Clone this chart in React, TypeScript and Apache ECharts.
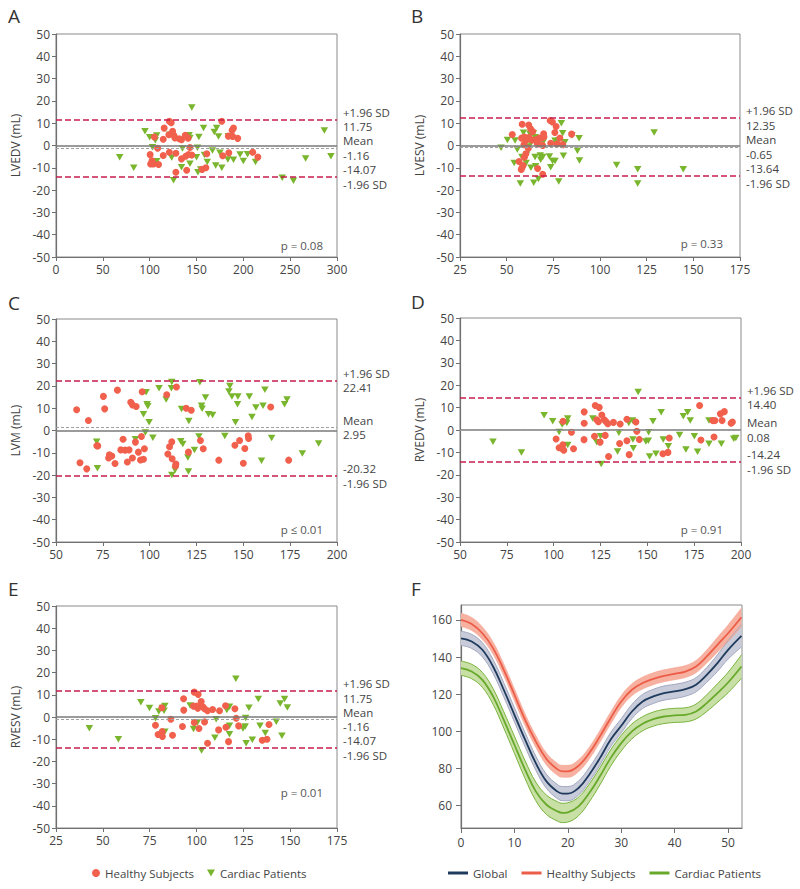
import React, { useEffect, useRef } from 'react';
import * as echarts from 'echarts';

const FONT = '"Open Sans", "Noto Sans", sans-serif';
const TEXT = '#444444';
const AXIS = '#707070';
const HEALTHY = '#f0604d';
const CARDIAC = '#79b52d';
const LIMIT = '#c81d4e';
const DOWN_TRIANGLE = 'path://M0,0L10,0L5,9Z';

// ---------- Panel A: LVEDV ----------
const lvedvHealthy = [[121,10.9],[123,10.2],[177,10.9],[115.5,7.8],[124.5,6.4],[189.5,7.8],[188,6.8],[105,3.8],[120.5,4.8],[126,4.5],[127,3.4],[131.5,3],[134,2.6],[138,4.6],[141,3.3],[114.5,2.8],[184,4.2],[188.5,4.1],[194,3.2],[108.5,-1.2],[143,-0.9],[100.5,-4.1],[114.5,-4.5],[121,-3],[128,-3.5],[134,-6],[138.5,-4.8],[141.5,-4],[145,-4.3],[161,-3.7],[178,-4.6],[184.5,-3.3],[210,-3],[215.5,-5.2],[102.5,-6.8],[104,-8.3],[109.5,-8.5],[101,-8.3],[128,-12],[139.5,-11.1],[156,-10.7],[160,-10]];
const lvedvCardiac = [[145,17],[95,6.4],[100,3.7],[106,3.7],[107.5,4.5],[106,2.3],[103,-0.8],[121.5,4.8],[142,4.6],[143,3.4],[152.5,3.8],[157.5,7.8],[171.5,7.8],[169,6],[173.5,4],[184,4.2],[286.5,6.7],[135,-1.4],[151,-1],[158.5,-4.3],[167,-2.2],[175,-3.3],[123.5,-5.4],[68,-5.3],[83,-10],[107.5,-7.1],[134,-9.8],[143,-8.2],[150,-5.3],[151.5,-12],[154.5,-10.8],[161.5,-7.4],[170.5,-9],[177,-10],[183.5,-6.3],[189.5,-6.4],[196.5,-4],[200,-7],[204.5,-3.9],[213,-7.4],[266.5,-5.8],[293.5,-4.8],[241.5,-14.5],[253.5,-15.8],[125.5,-15.6]];

// ---------- Panel B: LVESV ----------
const lvesvHealthy = [[53,4.9],[58.3,9.5],[61.8,9.2],[62.8,7.5],[64,6.3],[58,3.3],[59.5,3.8],[60.5,2.5],[62,3.7],[63.5,2.5],[65.5,2.6],[66.3,1],[67.5,3.3],[69,3.4],[69.8,5.3],[70,3.9],[67,0.7],[69.3,0],[73.3,11.2],[74.5,10.5],[76.5,8.5],[75.8,5.8],[73.6,1],[77,0.7],[78.5,3.4],[80,0.4],[84.8,5.1],[60.3,-3.7],[59.5,-5.3],[56.6,-7.2],[58.8,-9],[58.2,-10],[57.8,-10.8],[61.6,-1.2],[66.6,-10.3],[69.3,-12.9],[59.3,0.4]];
const lvesvCardiac = [[47,-1],[50.4,2.5],[54.5,2.2],[55.7,-1.8],[54,-7.8],[57.3,-17],[58.2,-5.2],[59,5.7],[60.7,-4],[60.4,-7.9],[61.3,-0.4],[62.5,5.2],[63,1],[63,-10],[64.3,5.5],[65.2,3.7],[65.2,-5.2],[64.5,-16.7],[65.5,-9.3],[67,-15],[68.2,-6.4],[68,-4.5],[69.3,-5.2],[69.6,1.6],[72.9,-4.9],[73.6,-9.7],[74.6,-7],[75.9,-7],[75.9,2.1],[77.7,2.2],[77.9,-16.1],[79.3,10],[80,5.5],[80.4,-4.6],[81.2,1.5],[85,4.5],[87.9,-2.4],[89,-6.7],[88.8,3.3],[108.9,-8.7],[120.2,-10.6],[120.2,-17],[129,5.8],[144.6,-10.7]];

// ---------- Panel C: LVM ----------
const lvmHealthy = [[61,9.3],[67.3,4.5],[75.3,15.3],[76,9.7],[82.8,18.1],[89.9,12.7],[90.8,11.5],[92.8,10.8],[96,17.4],[109.1,16],[114.3,19.5],[119.5,10],[122.2,9.1],[164.6,10.5],[62.8,-14.5],[66.4,-17.2],[72.3,-6.9],[71.8,-6.8],[78.5,-10.9],[78.1,-12.3],[79.8,-11.4],[81.5,-14.8],[84.6,-8.7],[85.8,-3.9],[86.9,-8.8],[89,-8.7],[88.1,-14.1],[90.8,-12.3],[92.4,-5.2],[94,-9.7],[95.1,-13.2],[95.6,-2.7],[96.7,-12.9],[97.2,-8.2],[111.8,-5.1],[110.6,-7.3],[109.7,-10.5],[112,-12.7],[113.8,-15.9],[114,-15],[120.7,-9.7],[127.1,-4.5],[128.6,-8.2],[136.9,-13.3],[145.5,-6.6],[148,-4.5],[150.8,-8.1],[150,-14.7],[152.6,-2.4],[152.8,-3.6],[174.2,-13.3]];
const lvmCardiac = [[111.8,21.7],[111.6,19],[126.8,21.6],[98.1,17.2],[105,19],[108.8,13.9],[98.6,11.8],[99,10.9],[96.7,7.3],[99.7,3.7],[117,9.6],[120.9,4.3],[129.8,14.8],[127.7,11.1],[128,9.7],[131.4,7.3],[133.6,7],[142.8,19.9],[142.3,17.5],[143.9,15.3],[147.1,15.3],[146.9,11.8],[145.8,3.7],[153.2,15.3],[154.6,6],[156.7,10.3],[160.5,11.1],[161.5,18.3],[172,11.8],[173.3,13.9],[97.7,-0.9],[101.7,-3.3],[92.4,-3.9],[71.7,-5.1],[72.1,-16.9],[111.8,-19.9],[113.6,-17.7],[116.6,-4.8],[117.7,-6.1],[120.4,-12.1],[120.7,-18.4],[123.9,-8.7],[126.3,-2.7],[140.1,-2.5],[159.7,-13.6],[165.1,-3.4],[181.5,-10.3],[190.2,-5.8]];

// ---------- Panel D: RVEDV ----------
const rvedvHealthy = [[101.3,-4],[102.9,-7.9],[104.5,-8.2],[104.9,-6.6],[105.4,-9],[105,3.9],[109.5,-1],[110.6,-8.4],[116.2,-4.3],[116.3,8.1],[116.3,3],[122.2,10.9],[124.3,10.1],[121.8,-2.8],[123,4.6],[123.9,3.7],[124.8,-5.4],[125.7,6.7],[127,4.6],[128,3.7],[127.5,-2.4],[128.9,2.8],[129.3,-11.8],[131.9,3.4],[135.5,2.7],[135.2,-6],[139.1,4.8],[139.1,-4.8],[140.3,-11],[143.9,3.6],[144.4,-0.6],[145.7,-4.2],[158.3,-10.6],[161,-10],[161.7,-3.6],[177.9,10.9],[178.6,-4.5],[184.9,4.2],[186.1,4.2],[185.6,-3.1],[189,7.2],[191.1,8.2],[189.9,4.2],[194.7,3],[195.4,3.6]];
const rvedvCardiac = [[67.6,-5.2],[82.8,-10],[94.9,6.6],[99.5,3.9],[102.9,-0.9],[104.5,2.4],[105.4,3.4],[107,3.1],[107.5,5.1],[107.5,-6.7],[120.9,5.1],[123,-5.5],[125,-2.8],[125.4,-15.2],[134.8,-1.2],[134.1,-9.6],[140.1,3.1],[142.1,4.2],[142.3,-4.2],[142.5,-8.1],[145.1,17],[149.2,-5.1],[150.7,-1],[150.5,-4.8],[151.2,-11.8],[153,3.9],[154.6,-10.6],[157.4,7.9],[158.5,-4.2],[161.2,-7.3],[167.2,-2.2],[169.2,6.1],[170.6,-8.7],[171.5,7.9],[172.9,4.2],[175.1,-2.8],[176.8,-9.7],[182.9,4.2],[182.9,-6.1],[189.5,-6.1],[196.1,-3.9],[197.2,-3.6]];

// ---------- Panel E: RVESV ----------
const rvesvHealthy = [[78.1,-3.7],[79.5,-7.9],[81.7,-6.6],[81.8,-8.8],[81.5,4.2],[86.3,-1],[87.2,-8.2],[92.5,-4.3],[93.1,8.2],[93.2,3.1],[98.8,11.2],[100.9,10.2],[98.8,-2.5],[98.4,4.9],[100.2,4.9],[100.7,3.9],[101.3,-5.2],[102.5,7],[103.4,4.6],[104.3,3.7],[104.3,-2.2],[105.9,2.8],[105.9,-11.8],[108.6,3.4],[112.3,2.8],[111.8,-5.8],[115.5,5.1],[115.7,-4.6],[117.1,-11.1],[120.5,3.7],[121.2,-0.6],[122.5,-4],[135.1,-10.5],[137.6,-10],[138.7,-3.4]];
const rvesvCardiac = [[42.8,-5.1],[58.3,-10],[70.3,6.6],[74.9,4],[78.1,-0.6],[79.9,2.5],[81.8,4],[83.1,4.9],[82.7,2.8],[83.1,-6.7],[96.6,5.2],[98.4,-5.4],[100.5,-2.5],[102.7,-15.1],[109.8,-9.4],[110.5,-1],[116.2,3.1],[117.6,4.6],[117.6,-3.9],[117.6,-7.8],[121,17.2],[124.8,-5.2],[126.2,-0.4],[126,-4.3],[126.5,-11.8],[128,4.2],[129.8,-10.3],[133,8.1],[133.9,-3.9],[136.7,-7.2],[142.6,-2.1],[144.7,6.1],[145.6,-8.5],[147,8.1],[148.5,4.3]];

// ---------- Bland-Altman statistics ----------
const panelLetters = ['A', 'B', 'C', 'D', 'E', 'F'];
const yAxisNames = ['LVEDV (mL)', 'LVESV (mL)', 'LVM (mL)', 'RVEDV (mL)', 'RVESV (mL)'];
const xMins = [0, 25, 50, 50, 25];
const xMaxs = [300, 175, 200, 200, 175];
const xIntervals = [50, 25, 25, 25, 25];
const upperLimits = [11.75, 12.35, 22.41, 14.40, 11.75];
const meanLabels = ['-1.16', '-0.65', '2.95', '0.08', '-1.16'];
const meanLinePositions = [-1.16, -0.65, 1.35, 0.08, -1.16];
const lowerLimits = [-14.07, -13.64, -20.32, -14.24, -14.07];
const pValueLabels = ['p = 0.08', 'p = 0.33', 'p \u2264 0.01', 'p = 0.91', 'p = 0.01'];
const healthyData = [lvedvHealthy, lvesvHealthy, lvmHealthy, rvedvHealthy, rvesvHealthy];
const cardiacData = [lvedvCardiac, lvesvCardiac, lvmCardiac, rvedvCardiac, rvesvCardiac];

// ---------- Panel F: volume curves ----------
const timeFrames = [0, 2, 4, 6, 8, 10, 12, 14, 16, 18, 19, 20, 22, 24, 26, 28, 30, 32, 34, 36, 38, 40, 42, 44, 46, 48, 50, 52.5];
const globalMean = [150.1, 148.4, 143.9, 134.9, 122.4, 108.9, 95.5, 82.9, 73.1, 67.7, 66.5, 66.5, 69.5, 76.7, 85.6, 95.5, 103, 110.7, 116.1, 118.8, 120.6, 121.5, 122.7, 125.1, 130.4, 136.7, 143.9, 151.4];
const globalHalfBand = [3.8, 3.8, 3.8, 3.8, 3.8, 3.8, 3.8, 3.8, 3.8, 3.8, 3.8, 3.8, 3.8, 3.8, 3.8, 3.8, 3.8, 3.8, 3.8, 3.8, 3.8, 3.8, 3.8, 3.8, 4, 4.5, 5, 6];
const healthyMean = [160, 157.8, 152.8, 144.8, 133.1, 119.7, 106.2, 94.6, 85.1, 79.7, 78.5, 78.5, 81.5, 88.3, 97.3, 107.1, 116.1, 122.4, 126, 128.3, 129.9, 131, 132.2, 134.9, 140.3, 146.6, 152.8, 161.4];
const healthyHalfBand = [3.6, 3.5, 3.4, 3.3, 3.2, 3.2, 3.2, 3.2, 3.2, 3.2, 3.2, 3.2, 3.2, 3.2, 3.2, 3.2, 3.2, 3.2, 3.2, 3.2, 3.2, 3.2, 3.2, 3.3, 3.5, 4, 4.5, 5];
const cardiacMean = [134, 132.2, 127.7, 118.8, 106.2, 92.8, 79.4, 67.7, 60.5, 57, 56.1, 56.4, 59.6, 66.8, 75.8, 85.6, 93.7, 100, 104.1, 106.6, 108, 108.6, 108.9, 110.7, 115.2, 120.6, 126.3, 134.9];
const cardiacHalfBand = [3.8, 3.9, 4, 4.2, 4.4, 4.6, 4.8, 5, 5.2, 5.2, 5.2, 5.2, 5, 4.8, 4.6, 4.4, 4.2, 4, 3.8, 3.8, 3.8, 3.8, 3.8, 4, 4.5, 5, 5.5, 6.3];
const fXTicks = [0, 10, 20, 30, 40, 50];
const fYTicks = [60, 80, 100, 120, 140, 160];

// ---------- layout (pixels) ----------
const gridRects = [
  [56, 34, 281, 223],
  [460, 34, 280, 223],
  [56, 319, 281, 223],
  [460, 318, 281, 224],
  [56, 606, 281, 222],
  [461, 605, 281, 223],
];
const letterPos = [[8, 16], [411, 16], [8, 303], [411, 302], [8, 589], [411, 589]];
const pValuePos = [[323, 245], [723, 243], [323, 529], [723, 529], [323, 792]];

function buildOption() {
  const grid: any[] = [];
  const xAxis: any[] = [];
  const yAxis: any[] = [];
  const series: any[] = [];
  const graphic: any[] = [];

  const labelStyle = { color: TEXT, fontSize: 12, fontFamily: FONT };

  gridRects.forEach((r) => {
    grid.push({
      left: r[0], top: r[1], width: r[2], height: r[3],
      show: true, borderColor: '#8a8a8a', borderWidth: 1, backgroundColor: 'transparent',
    });
  });

  for (let i = 0; i < 5; i++) {
    xAxis.push({
      gridIndex: i, type: 'value', min: xMins[i], max: xMaxs[i], interval: xIntervals[i],
      axisLine: { show: true, onZero: false, lineStyle: { color: AXIS, width: 1.2 } },
      axisTick: { show: true, length: 4, lineStyle: { color: AXIS } },
      axisLabel: { ...labelStyle, margin: 6 },
      splitLine: { show: false },
    });
    yAxis.push({
      gridIndex: i, type: 'value', min: -50, max: 50, interval: 10,
      name: yAxisNames[i], nameLocation: 'middle', nameGap: 35,
      nameTextStyle: { color: TEXT, fontSize: 12, fontFamily: FONT },
      axisLine: { show: true, onZero: false, lineStyle: { color: AXIS, width: 1.2 } },
      axisTick: { show: true, length: 4, lineStyle: { color: AXIS } },
      axisLabel: { ...labelStyle, margin: 6 },
      splitLine: { show: false },
    });

    const lbl = { show: true, position: 'end', distance: 6, color: TEXT, fontSize: 11.5, fontFamily: FONT, lineHeight: 14.5 };
    series.push({
      type: 'line', xAxisIndex: i, yAxisIndex: i, data: [], silent: true, z: 1,
      markLine: {
        silent: true, symbol: ['none', 'none'], animation: false,
        data: [
          { yAxis: 0, lineStyle: { color: '#7a7a7a', width: 1.5, type: 'solid' }, label: { show: false } },
          { yAxis: meanLinePositions[i], lineStyle: { color: '#a0a0a0', width: 1.2, type: [3, 2] }, label: { ...lbl, formatter: 'Mean\n' + meanLabels[i] } },
          { yAxis: upperLimits[i], lineStyle: { color: LIMIT, width: 1.5, type: [6, 3] }, label: { ...lbl, formatter: '+1.96 SD\n' + upperLimits[i].toFixed(2) } },
          { yAxis: lowerLimits[i], lineStyle: { color: LIMIT, width: 1.5, type: [6, 3] }, label: { ...lbl, formatter: lowerLimits[i].toFixed(2) + '\n-1.96 SD' } },
        ],
      },
    });
    series.push({
      type: 'scatter', name: 'Cardiac Patients', xAxisIndex: i, yAxisIndex: i,
      data: cardiacData[i], symbol: DOWN_TRIANGLE, symbolSize: [7.5, 6.5],
      itemStyle: { color: CARDIAC, opacity: 1 }, z: 3,
    });
    series.push({
      type: 'scatter', name: 'Healthy Subjects', xAxisIndex: i, yAxisIndex: i,
      data: healthyData[i], symbol: 'circle', symbolSize: 7,
      itemStyle: { color: HEALTHY, opacity: 1 }, z: 4,
    });

    graphic.push({
      type: 'text', x: pValuePos[i][0], y: pValuePos[i][1],
      style: { text: pValueLabels[i], align: 'right', verticalAlign: 'middle', fontSize: 11.5, fontFamily: FONT, fill: '#555555' },
    });
  }

  // Panel F axes
  xAxis.push({
    gridIndex: 5, type: 'value', min: 0, max: 52.6,
    axisLine: { show: true, onZero: false, lineStyle: { color: AXIS, width: 1.2 } },
    axisTick: { show: true, length: 5, lineStyle: { color: AXIS }, customValues: fXTicks },
    axisLabel: { ...labelStyle, margin: 8, customValues: fXTicks },
    splitLine: { show: false },
  });
  yAxis.push({
    gridIndex: 5, type: 'value', min: 48, max: 168,
    axisLine: { show: true, onZero: false, lineStyle: { color: AXIS, width: 1.2 } },
    axisTick: { show: true, length: 5, lineStyle: { color: AXIS }, customValues: fYTicks },
    axisLabel: { ...labelStyle, margin: 9, customValues: fYTicks },
    splitLine: { show: false },
  });

  const groups = [
    { name: 'Global', mean: globalMean, half: globalHalfBand, line: '#1e3a5c', fill: '#c8cbd9', edge: '#a3a8bf', edgeW: 1 },
    { name: 'Healthy Subjects', mean: healthyMean, half: healthyHalfBand, line: '#ec5d48', fill: '#f7b1a1', edge: '#f5a290', edgeW: 0.6 },
    { name: 'Cardiac Patients', mean: cardiacMean, half: cardiacHalfBand, line: '#68a92c', fill: '#c8e0a5', edge: '#78b33c', edgeW: 1 },
  ];
  // Bands: data stored as [value, time] with encode so that the stacked dimension is the y value
  groups.forEach((g, k) => {
    const stack = 'band' + k;
    series.push({
      type: 'line', xAxisIndex: 5, yAxisIndex: 5, stack, smooth: 0.4, symbol: 'none', silent: true, z: 2,
      encode: { x: 1, y: 0 },
      data: timeFrames.map((t, j) => [g.mean[j] - g.half[j], t]),
      lineStyle: { color: g.edge, width: g.edgeW },
    });
    series.push({
      type: 'line', xAxisIndex: 5, yAxisIndex: 5, stack, smooth: 0.4, symbol: 'none', silent: true, z: 2,
      encode: { x: 1, y: 0 },
      data: timeFrames.map((t, j) => [2 * g.half[j], t]),
      lineStyle: { color: g.edge, width: g.edgeW },
      areaStyle: { color: g.fill, opacity: 1 },
    });
  });
  groups.forEach((g) => {
    series.push({
      type: 'line', name: g.name, xAxisIndex: 5, yAxisIndex: 5, smooth: 0.4, symbol: 'none', z: 3,
      data: timeFrames.map((t, j) => [t, g.mean[j]]),
      lineStyle: { color: g.line, width: 1.8 },
      itemStyle: { color: g.line },
    });
  });

  panelLetters.forEach((l, i) => {
    graphic.push({
      type: 'text', x: letterPos[i][0], y: letterPos[i][1],
      style: { text: l, align: 'left', verticalAlign: 'middle', fontSize: 19, fontFamily: FONT, fill: '#333333' },
    });
  });

  const legendText = { color: TEXT, fontSize: 11.5, fontFamily: FONT };
  const legend = [
    {
      left: 87, top: 862, padding: 5, itemGap: 13, itemWidth: 8, itemHeight: 8, textStyle: legendText, selectedMode: false,
      data: [
        { name: 'Healthy Subjects', icon: 'circle', itemStyle: { color: HEALTHY } },
        { name: 'Cardiac Patients', icon: DOWN_TRIANGLE, itemStyle: { color: CARDIAC } },
      ],
    },
    {
      left: 443, top: 862, padding: 5, itemGap: 14, itemWidth: 20, itemHeight: 3, textStyle: legendText, selectedMode: false,
      data: [
        { name: 'Global', icon: 'rect', itemStyle: { color: '#1e3a5c' } },
        { name: 'Healthy Subjects', icon: 'rect', itemStyle: { color: '#ec5d48' } },
        { name: 'Cardiac Patients', icon: 'rect', itemStyle: { color: '#68a92c' } },
      ],
    },
  ];

  return {
    animation: false,
    backgroundColor: '#ffffff',
    textStyle: { fontFamily: FONT },
    grid, xAxis, yAxis, series, graphic, legend,
  };
}

export default function App() {
  const ref = useRef<HTMLDivElement>(null);
  useEffect(() => {
    const chart = echarts.init(ref.current as HTMLDivElement, null, { renderer: 'svg' });
    chart.setOption(buildOption() as any);
    return () => chart.dispose();
  }, []);
  return <div ref={ref} style={{ position: 'absolute', left: 0, top: 0, width: 800, height: 889 }} />;
}
